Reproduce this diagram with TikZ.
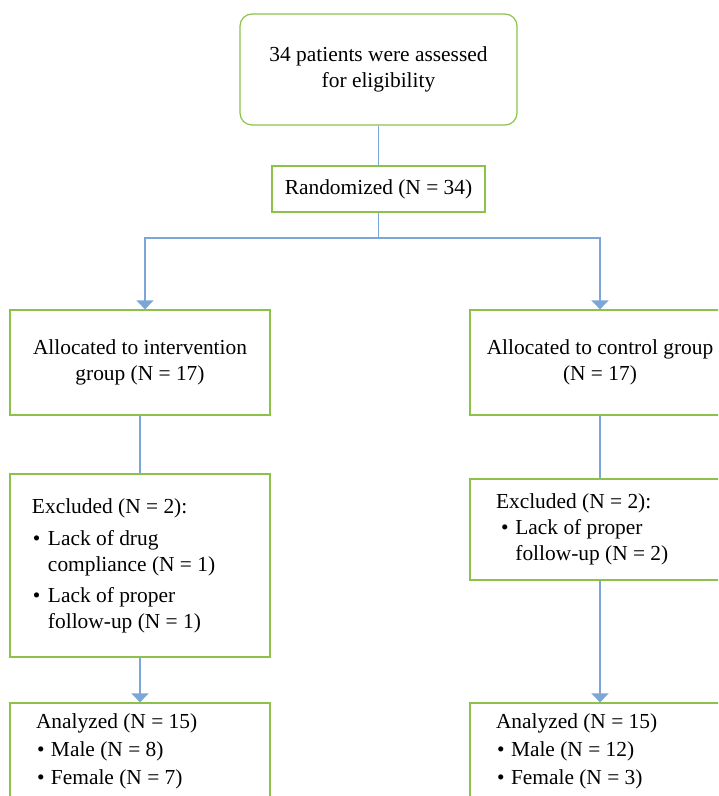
\documentclass[tikz,border=0pt]{standalone}
\usepackage{fontspec}
\setmainfont{Liberation Serif}
\usetikzlibrary{arrows.meta,positioning}

\definecolor{boxgreen}{RGB}{140,194,74}
\definecolor{linkblue}{RGB}{124,166,216}

% bullet with its own indent and gap
\newcommand{\bul}[2]{\hspace*{#1}\makebox[#2][l]{\textbullet}}

\tikzset{
	stage/.style = {rectangle, draw=boxgreen, line width=0.6pt, minimum width=130pt,
		text centered, inner sep=0pt},
	listbox/.style = {stage, align=flush left, inner xsep=13pt, text width=104pt},
	link/.style = {draw=linkblue, line width=0.6pt},
	arc/.style = {link, -{Triangle[width=8.5pt,length=4.5pt]}}
}

\begin{document}
\begin{tikzpicture}[x=0.5pt,y=-0.5pt,font=\fontsize{10.7}{13}\selectfont]
	\useasboundingbox (0,0) rectangle (718,796);
	\clip (0,0) rectangle (718,796);
	
	\node [stage, rounded corners=6pt, minimum width=138.5pt, minimum height=55.5pt, align=center] (assess) at (378.5,69.5) {34 patients were assessed\\for eligibility};
	\node [stage, minimum width=106.5pt, minimum height=23pt] (rand) at (378.5,189) {Randomized (N = 34)};
	
	%groups
	\node [stage, minimum height=52.5pt, align=center] (allocI) at (140,362.5) {Allocated to intervention\\group (N = 17)};
	\node [stage, minimum height=52.5pt, align=center] (allocC) at (600,362.5) {Allocated to control group\\(N = 17)};
	
	\node [listbox, inner xsep=11pt, text width=108pt, minimum height=91.5pt] (exclI) at (140,565.5) {Excluded (N = 2):\\[3pt]\bul{0.5pt}{7.5pt}Lack of drug\\\hspace*{8pt}compliance (N = 1)\\[2.5pt]\bul{0.5pt}{7.5pt}Lack of proper\\\hspace*{8pt}follow-up (N = 1)};
	\node [listbox, minimum height=50.5pt] (exclC) at (600,529.5) {Excluded (N = 2):\\\bul{2.5pt}{7.2pt}Lack of proper\\\hspace*{9.7pt}follow-up (N = 2)};
	
	\node [listbox, minimum height=48pt] (anaI) at (140,751) {Analyzed (N = 15)\\[1pt]\bul{0.5pt}{7pt}Male (N = 8)\\[1pt]\bul{0.5pt}{7pt}Female (N = 7)};
	\node [listbox, minimum height=48pt] (anaC) at (600,751) {Analyzed (N = 15)\\[1pt]\bul{0.5pt}{7pt}Male (N = 12)\\[1pt]\bul{0.5pt}{7pt}Female (N = 3)};
	
	\coordinate (split) at (378.5,238);
	
	\draw [link] (assess) -- (rand);
	\draw [link] (rand) -- (split);
	\draw [arc] (split) -| ([xshift=2.5pt]allocI.north);
	\draw [arc] (split) -| (allocC.north);
	\draw [link] (allocI) -- (exclI);
	\draw [link] (allocC) -- (exclC);
	\draw [arc] (exclI) -- (anaI);
	\draw [arc] (exclC) -- (anaC);
	
\end{tikzpicture}
\end{document}
